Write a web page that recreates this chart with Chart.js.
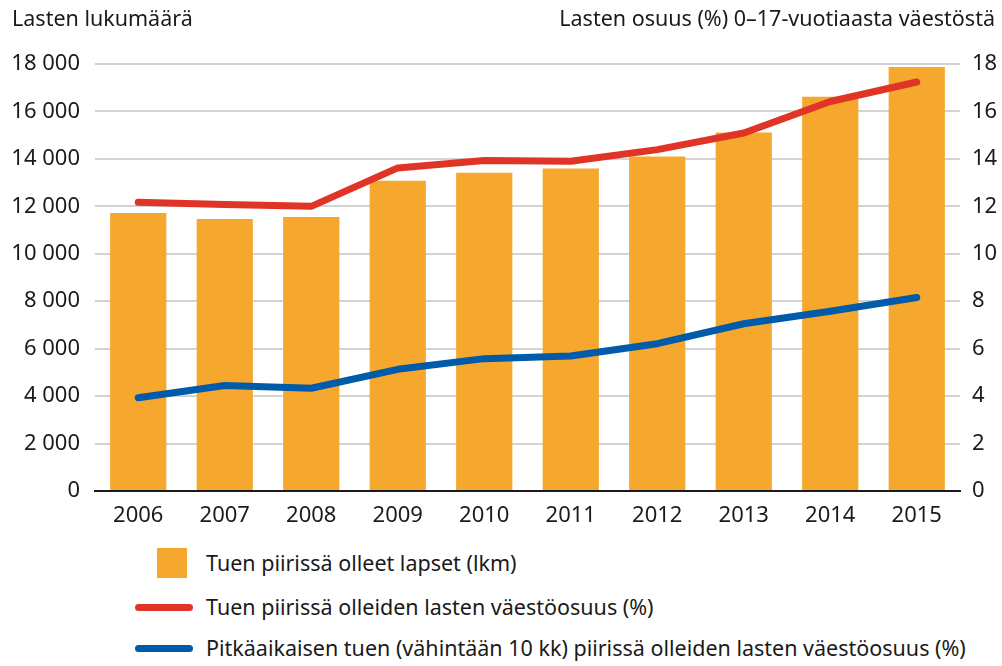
<!DOCTYPE html>
<html>
<head>
<meta charset="utf-8">
<script src="https://cdn.jsdelivr.net/npm/chart.js@4"></script>
<style>
    body { margin: 0; background: #fff; font-family: "Noto Sans", sans-serif; color: #1a1a1a; }
    #wrap { position: relative; width: 1002px; height: 666px; overflow: hidden; }
    #chart { position: absolute; left: 0; top: 0; }
    .title { position: absolute; top: 4px; font-size: 21.5px; line-height: 28px; white-space: nowrap; }
    .legend-row { position: absolute; left: 0; height: 30px; font-size: 21.5px; line-height: 30px; white-space: nowrap; }
    .legend-row span.txt { position: absolute; left: 206px; top: 0; }
    .swatch-box { position: absolute; left: 157px; top: 0; width: 30px; height: 30px; }
    .swatch-line { position: absolute; left: 135px; top: 12px; width: 58px; height: 7px; border-radius: 4px; }
</style>
</head>
<body>
<div id="wrap">
    <canvas id="chart" width="1002" height="530"></canvas>
    <div class="title" style="left: 12px;">Lasten lukumäärä</div>
    <div class="title" style="right: 7px;">Lasten osuus (%) 0–17-vuotiaasta väestöstä</div>

    <div class="legend-row" style="top: 548px;">
        <div class="swatch-box" style="background: #F6A72E;"></div>
        <span class="txt">Tuen piirissä olleet lapset (lkm)</span>
    </div>
    <div class="legend-row" style="top: 592px;">
        <div class="swatch-line" style="background: #E03526;"></div>
        <span class="txt">Tuen piirissä olleiden lasten väestöosuus (%)</span>
    </div>
    <div class="legend-row" style="top: 633px;">
        <div class="swatch-line" style="background: #005BAA;"></div>
        <span class="txt">Pitkäaikaisen tuen (vähintään 10 kk) piirissä olleiden lasten väestöosuus (%)</span>
    </div>
</div>

<script>
    // Data
    const years = ['2006', '2007', '2008', '2009', '2010', '2011', '2012', '2013', '2014', '2015'];
    const childrenCount = [11720, 11470, 11550, 13080, 13420, 13590, 14100, 15110, 16620, 17870];
    const shareAll = [12.17, 12.08, 12.0, 13.62, 13.93, 13.9, 14.39, 15.09, 16.42, 17.24];
    const shareLongTerm = [3.93, 4.45, 4.33, 5.13, 5.58, 5.69, 6.21, 7.05, 7.58, 8.16];

    const tickFont = { family: 'Noto Sans', size: 22 };
    const textColor = '#1a1a1a';

    // thousands with a space, e.g. 18 000
    function fmt(v) {
        return String(v).replace(/\B(?=(\d{3})+(?!\d))/g, ' ');
    }

    const ctx = document.getElementById('chart').getContext('2d');
    new Chart(ctx, {
        data: {
            labels: years,
            datasets: [
                {
                    type: 'line',
                    label: 'Tuen piirissä olleiden lasten väestöosuus (%)',
                    data: shareAll,
                    yAxisID: 'y2',
                    borderColor: '#E03526',
                    borderWidth: 7,
                    borderCapStyle: 'round',
                    borderJoinStyle: 'round',
                    pointRadius: 0,
                    tension: 0,
                    order: 1
                },
                {
                    type: 'line',
                    label: 'Pitkäaikaisen tuen (vähintään 10 kk) piirissä olleiden lasten väestöosuus (%)',
                    data: shareLongTerm,
                    yAxisID: 'y2',
                    borderColor: '#005BAA',
                    borderWidth: 7,
                    borderCapStyle: 'round',
                    borderJoinStyle: 'round',
                    pointRadius: 0,
                    tension: 0,
                    order: 2
                },
                {
                    type: 'bar',
                    label: 'Tuen piirissä olleet lapset (lkm)',
                    data: childrenCount,
                    yAxisID: 'y',
                    backgroundColor: '#F6A72E',
                    borderWidth: 0,
                    barPercentage: 0.65,
                    categoryPercentage: 1,
                    order: 3
                }
            ]
        },
        options: {
            responsive: false,
            animation: false,
            layout: { padding: { top: 64, bottom: 0, left: 0, right: 0 } },
            plugins: {
                legend: { display: false },
                tooltip: { enabled: false }
            },
            scales: {
                x: {
                    grid: { display: false },
                    border: { display: true, color: '#1a1a1a', width: 2 },
                    ticks: { font: tickFont, color: textColor, padding: 4, maxRotation: 0 },
                    afterFit: function(scale) { scale.height = 39; }
                },
                y: {
                    position: 'left',
                    min: 0,
                    max: 18000,
                    ticks: {
                        stepSize: 2000,
                        font: tickFont,
                        color: textColor,
                        padding: 15,
                        callback: function(v) { return fmt(v); }
                    },
                    grid: {
                        drawTicks: false,
                        lineWidth: 2,
                        color: function(c) { return c.tick && c.tick.value === 0 ? 'rgba(0,0,0,0)' : '#D3D3D3'; }
                    },
                    border: { display: false },
                    afterFit: function(scale) { scale.width = 95; }
                },
                y2: {
                    position: 'right',
                    min: 0,
                    max: 18,
                    ticks: { stepSize: 2, font: tickFont, color: textColor, padding: 12 },
                    grid: { display: false, drawTicks: false },
                    border: { display: false },
                    afterFit: function(scale) { scale.width = 42; }
                }
            }
        }
    });
</script>
</body>
</html>
